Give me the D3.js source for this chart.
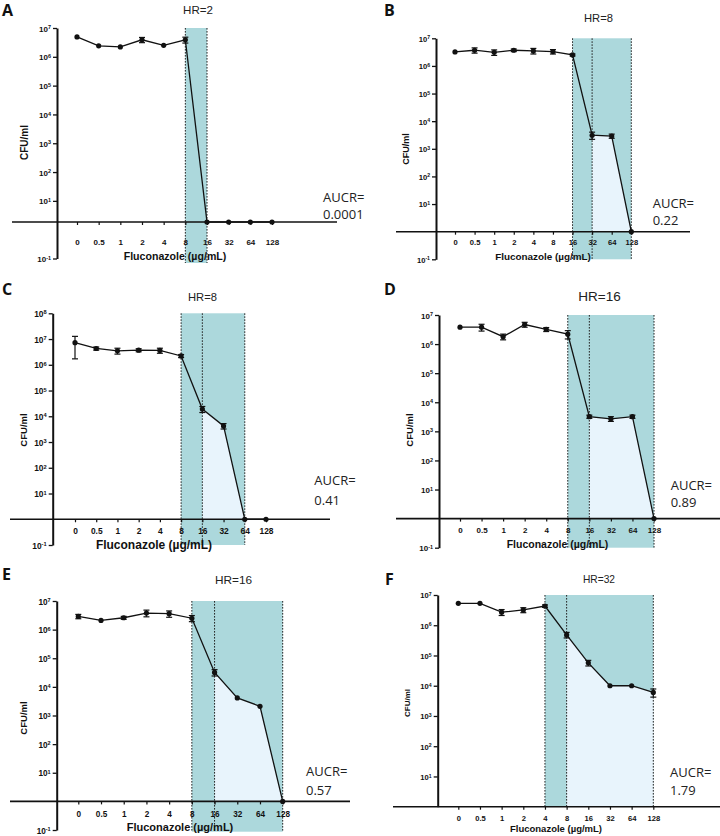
<!DOCTYPE html>
<html><head><meta charset="utf-8">
<script src="https://cdn.jsdelivr.net/npm/d3@7"></script>
<style>body{margin:0;background:#fff} svg{display:block}</style>
</head><body>
<svg id="chart" width="720" height="836"></svg>
<script>
// ---------- DATA ----------
const categories = ["0","0.5","1","2","4","8","16","32","64","128"];
const panelLetters = ["A","B","C","D","E","F"];
const hrLabels = ["HR=2","HR=8","HR=8","HR=16","HR=16","HR=32"];
const aucrValues = ["0.0001","0.22","0.41","0.89","0.57","1.79"];
const xAxisTitle = "Fluconazole (µg/mL)";
const yAxisTitle = "CFU/ml";

const valuesA = [4.9e6, 2.4e6, 2.2e6, 3.9e6, 2.5e6, 3.9e6, 0, 0, 0, 0];
const valuesB = [3.2e6, 3.7e6, 3.1e6, 3.7e6, 3.5e6, 3.3e6, 2.5e6, 3.1e3, 2.9e3, 0];
const valuesC = [7.2e6, 4.3e6, 3.5e6, 3.7e6, 3.6e6, 2.2e6, 1.9e4, 4.2e3, 0, 0];
const valuesD = [3.8e6, 3.8e6, 1.8e6, 4.7e6, 3.2e6, 2.2e6, 3.2e3, 2.7e3, 3.2e3, 0];
const valuesE = [2.9e6, 2.1e6, 2.6e6, 3.8e6, 3.6e6, 2.5e6, 3.2e4, 4.1e3, 2.1e3, 0];
const valuesF = [5.3e6, 5.3e6, 2.7e6, 3.2e6, 4.3e6, 4.8e5, 5.7e4, 1.0e4, 1.0e4, 6.0e3];

const errA = [0, 0, 0, 0.8e6, 0, 0.9e6, 0, 0, 0, 0];
const errB = [0, 0.8e6, 0.7e6, 0.4e6, 0.8e6, 0.6e6, 0.2e6, 0.9e3, 0.5e3, 0];
const errC = [5.5e6, 0.6e6, 0.9e6, 0.5e6, 0.8e6, 0.3e6, 5e3, 1e3, 0, 0];
const errD = [0, 1.0e6, 0.4e6, 0.9e6, 0.5e6, 0.7e6, 0.4e3, 0.5e3, 0.4e3, 0];
const errE = [0.5e6, 0, 0.3e6, 1.0e6, 0.9e6, 0.6e6, 0.8e4, 0, 0, 0];
const errF = [0, 0, 0.6e6, 0.6e6, 0.4e6, 1.0e5, 1.2e4, 0, 0, 1.8e3];

const seriesValues = [valuesA, valuesB, valuesC, valuesD, valuesE, valuesF];
const seriesErrors = [errA, errB, errC, errD, errE, errF];
const shadeRanges = [["8","16"],["16","128"],["8","64"],["8","128"],["8","128"],["4","128"]];
const lightRanges = [null,["32","128"],["16","64"],["16","128"],["16","128"],["8","128"]];

// ---------- LAYOUT ----------
const layouts = [
 {ax:57, topExp:7, botExp:-1, yTop:28, yBot:258.5, cross:1.85, x0:77, x1:272, lineL:12, lineR:337, shadeBot:263,
  letter:[2,16], hr:[198,14,11.6], aucr:[323,201.5,219], tickY:245, tickFs:8, title:[175,260,10.6], ylab:[24,142.5,10]},
 {ax:436, topExp:7, botExp:-1, yTop:38.3, yBot:259.3, cross:1, x0:455, x1:631.3, lineL:396, lineR:690, shadeBot:259.3,
  letter:[384,16], hr:[598.5,21.5,11.2], aucr:[652.7,208,225], tickY:245.5, tickFs:7.6, title:[543,260,9.9], ylab:[406,149,9]},
 {ax:52.7, topExp:8, botExp:-1, yTop:313.3, yBot:545, cross:1, x0:75, x1:266, lineL:10, lineR:330, shadeBot:545,
  letter:[2,295], hr:[202.5,300.5,11.2], aucr:[314.3,485,505], tickY:534, tickFs:8.4, title:[154,549,12], ylab:[24,430,9.5]},
 {ax:439, topExp:7, botExp:-1, yTop:315, yBot:547.7, cross:1, x0:460, x1:654, lineL:396, lineR:720, shadeBot:547.7,
  letter:[384,295], hr:[599.5,300.5,13.5], aucr:[670.7,490,507], tickY:533, tickFs:8, title:[557.5,548,10.5], ylab:[409.5,430,9.5]},
 {ax:56.7, topExp:7, botExp:-1, yTop:601, yBot:830, cross:1, x0:78.3, x1:282.7, lineL:10, lineR:350, shadeBot:831.7,
  letter:[2,580], hr:[233.5,584,11.8], aucr:[306,776,795], tickY:817, tickFs:8.2, title:[180,831,11], ylab:[24,718,9.5]},
 {ax:437.7, topExp:7, botExp:0, yTop:595, yBot:806.7, cross:1, x0:458.3, x1:653.3, lineL:393, lineR:720, shadeBot:806.7,
  letter:[385,585], hr:[599,583,10.2], aucr:[670,777,795], tickY:821, tickFs:7.6, title:[556,832,9.5], ylab:[407,703,8]}
];

const DARK = "#acd8dc", LIGHT = "#e8f4fc";
const SANS = "'Liberation Sans', Arial, sans-serif";
const svg = d3.select("#chart");

layouts.forEach((L, i) => {
  const vals = seriesValues[i], errs = seriesErrors[i];
  const g = svg.append("g");
  const x = d3.scalePoint().domain(categories).range([L.x0, L.x1]);
  const y = d3.scaleLog().domain([Math.pow(10, L.botExp), Math.pow(10, L.topExp)]).range([L.yBot, L.yTop]);
  const base = y(L.cross);
  const yv = v => v > 0 ? y(v) : base;
  const pts = categories.map((c, j) => ({c, v: vals[j], e: errs[j]}));

  // dark shaded band
  const [s0, s1] = shadeRanges[i];
  g.append("rect").attr("x", x(s0)).attr("y", L.yTop)
    .attr("width", x(s1) - x(s0)).attr("height", L.shadeBot - L.yTop).attr("fill", DARK);

  // light area under curve
  const dots = [s0, s1];
  if (lightRanges[i]) {
    const [l0, l1] = lightRanges[i];
    const sub = pts.slice(categories.indexOf(l0), categories.indexOf(l1) + 1);
    g.append("path").datum(sub)
      .attr("d", d3.area().x(d => x(d.c)).y0(base).y1(d => yv(d.v)))
      .attr("fill", LIGHT);
    dots.push(l0);
  }
  g.selectAll(null).data(dots).join("line")
    .attr("x1", d => x(d)).attr("x2", d => x(d))
    .attr("y1", L.yTop).attr("y2", L.shadeBot)
    .attr("stroke", "#222").attr("stroke-width", 1).attr("stroke-dasharray", "1.6,1.4");

  // y axis
  const decades = d3.range(L.botExp, L.topExp + 1).map(e => Math.pow(10, e));
  const yAxis = g.append("g").attr("transform", `translate(${L.ax},0)`)
    .call(d3.axisLeft(y).tickValues(decades).tickFormat(() => "").tickSize(4).tickSizeOuter(0));
  yAxis.select(".domain").attr("stroke", "#111").attr("stroke-width", 2);
  yAxis.selectAll(".tick line").attr("stroke", "#111").attr("stroke-width", 1.3);
  yAxis.selectAll(".tick text").remove();
  yAxis.selectAll(".tick").filter(d => Math.round(Math.log10(d)) === 0).remove();
  yAxis.selectAll(".tick")
    .append("text").attr("x", -6).attr("dy", "0.38em").attr("text-anchor", "end")
    .attr("font-family", SANS).attr("font-weight", "bold").attr("font-size", L.tickFs).attr("fill", "#111")
    .each(function(d) {
      const t = d3.select(this);
      const e = Math.round(Math.log10(d));
      t.append("tspan").text("10");
      t.append("tspan").attr("dy", "-0.45em").attr("font-size", L.tickFs * 0.68).text(String(e));
    });

  // x axis
  g.append("line").attr("x1", L.lineL).attr("x2", L.lineR).attr("y1", base).attr("y2", base)
    .attr("stroke", "#111").attr("stroke-width", 1.6);
  const xAxis = g.append("g").attr("transform", `translate(0,${base})`)
    .call(d3.axisBottom(x).tickSize(3).tickSizeOuter(0));
  xAxis.select(".domain").remove();
  xAxis.selectAll(".tick line").attr("stroke", "#111").attr("stroke-width", 1.2);
  xAxis.selectAll(".tick text").attr("y", L.tickY - base).attr("dy", 0)
    .attr("font-family", SANS).attr("font-weight", "bold").attr("font-size", L.tickFs).attr("fill", "#111");

  // data line
  g.append("path").datum(pts)
    .attr("d", d3.line().x(d => x(d.c)).y(d => yv(d.v)))
    .attr("fill", "none").attr("stroke", "#111").attr("stroke-width", 1.3);

  // error bars
  const eb = g.selectAll(null).data(pts.filter(d => d.e > 0)).join("g");
  eb.append("line").attr("x1", d => x(d.c)).attr("x2", d => x(d.c))
    .attr("y1", d => y(d.v + d.e)).attr("y2", d => y(Math.max(d.v - d.e, 1e-9)))
    .attr("stroke", "#111").attr("stroke-width", 1.2);
  [1, -1].forEach(s => {
    eb.append("line").attr("x1", d => x(d.c) - 3).attr("x2", d => x(d.c) + 3)
      .attr("y1", d => y(d.v + s * d.e)).attr("y2", d => y(d.v + s * d.e))
      .attr("stroke", "#111").attr("stroke-width", 1.2);
  });

  // markers
  g.selectAll(null).data(pts).join("circle")
    .attr("cx", d => x(d.c)).attr("cy", d => yv(d.v)).attr("r", 2.6).attr("fill", "#111");

  // texts
  g.append("text").attr("x", L.letter[0]).attr("y", L.letter[1])
    .attr("font-family", "'Open Sans', sans-serif").attr("font-weight", "bold").attr("font-size", 16)
    .attr("fill", "#111").text(panelLetters[i]);
  g.append("text").attr("x", L.hr[0]).attr("y", L.hr[1]).attr("text-anchor", "middle")
    .attr("font-family", SANS).attr("font-size", L.hr[2]).attr("fill", "#222").text(hrLabels[i]);
  g.append("text").attr("x", L.aucr[0]).attr("y", L.aucr[1])
    .attr("font-family", "'Open Sans', sans-serif").attr("font-size", 13).attr("fill", "#222").text("AUCR=");
  g.append("text").attr("x", L.aucr[0]).attr("y", L.aucr[2])
    .attr("font-family", "'Open Sans', sans-serif").attr("font-size", 13).attr("fill", "#222").text(aucrValues[i]);
  g.append("text").attr("x", L.title[0]).attr("y", L.title[1]).attr("text-anchor", "middle")
    .attr("font-family", SANS).attr("font-weight", "bold").attr("font-size", L.title[2]).attr("fill", "#111")
    .text(xAxisTitle);
  g.append("text").attr("transform", `translate(${L.ylab[0]},${L.ylab[1]}) rotate(-90)`)
    .attr("text-anchor", "middle").attr("dy", "0.35em")
    .attr("font-family", SANS).attr("font-weight", "bold").attr("font-size", L.ylab[2]).attr("fill", "#111")
    .text(yAxisTitle);
});
</script>
</body></html>
